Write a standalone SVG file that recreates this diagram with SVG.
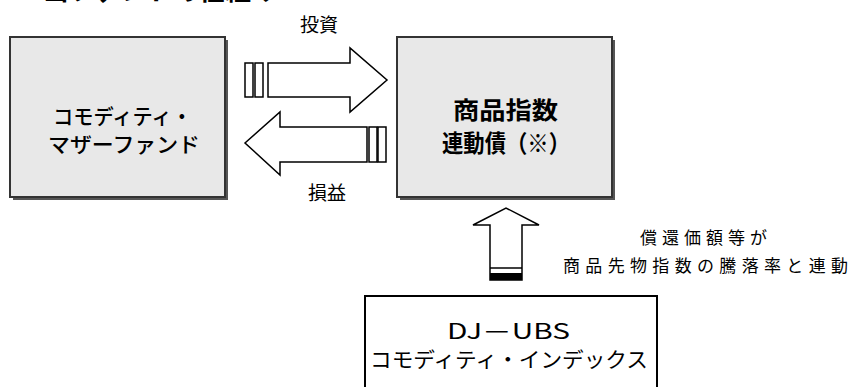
<svg xmlns="http://www.w3.org/2000/svg" width="850" height="387" viewBox="0 0 850 387">
<style>
text{font-family:"Noto Sans CJK JP","Liberation Sans",sans-serif;fill:#000;}
.box{fill:#e8e8e8;stroke:#333;stroke-width:2;}
.shadow{fill:#555;}
.arrow{fill:#fff;stroke:#000;stroke-width:1.5;stroke-linejoin:miter;}
.bar{fill:#fff;stroke:#000;stroke-width:1.5;}
.lbl{font-size:19px;}
.node{font-size:21px;}
</style>
<rect width="850" height="387" fill="#fff"/>
<text x="43" y="0" font-size="26" font-weight="bold">当ファンドの仕組み</text>
<g id="mother-fund">
<rect class="shadow" x="13" y="40" width="215" height="160"/>
<rect class="box" x="10" y="37" width="215" height="160"/>
<text class="node" x="53" y="115" dominant-baseline="central" font-weight="500" textLength="139" lengthAdjust="spacingAndGlyphs">コモディティ・</text>
<text class="node" x="48" y="143" dominant-baseline="central" font-weight="500" textLength="152" lengthAdjust="spacingAndGlyphs">マザーファンド</text>
</g>
<g id="index-bond">
<rect class="shadow" x="400" y="40" width="215" height="160"/>
<rect class="box" x="397" y="37" width="215" height="160"/>
<text x="453" y="108" font-size="24" dominant-baseline="central" font-weight="bold" textLength="105" lengthAdjust="spacingAndGlyphs">商品指数</text>
<text x="442" y="141" font-size="24" dominant-baseline="central" font-weight="bold" textLength="128" lengthAdjust="spacingAndGlyphs">連動債（※）</text>
</g>
<g id="djubs">
<rect x="365" y="296" width="292" height="110" fill="#fff" stroke="#000" stroke-width="2"/>
<text class="node" x="447" y="330" dominant-baseline="central" textLength="123" lengthAdjust="spacingAndGlyphs">DJ－UBS</text>
<text class="node" x="370" y="358" dominant-baseline="central" textLength="278" lengthAdjust="spacingAndGlyphs">コモディティ・インデックス</text>
</g>
<g id="connectors">
<rect class="bar" x="245" y="63" width="8" height="34"/>
<rect class="bar" x="255" y="63" width="8" height="34"/>
<path class="arrow" d="M268,63 H350 V48 L387,80 L350,112 V97 H268 Z"/>
<rect class="bar" x="369" y="127" width="8" height="35"/>
<rect class="bar" x="378" y="127" width="8" height="35"/>
<path class="arrow" d="M367,127 H280 V112 L245,143 L280,175 V162 H367 Z"/>
<path class="arrow" d="M490,280 V225 H473 L506,208 L539,225 H522 V280 Z"/>
<line x1="490" y1="268" x2="522" y2="268" stroke="#000" stroke-width="1.5"/>
<rect x="490" y="273" width="32" height="7" fill="#000"/>
<text class="lbl" x="319" y="23" text-anchor="middle" dominant-baseline="central">投資</text>
<text class="lbl" x="327" y="191" text-anchor="middle" dominant-baseline="central">損益</text>
<text x="640" y="236" font-size="17" dominant-baseline="central" textLength="127" lengthAdjust="spacing">償還価額等が</text>
<text x="563" y="264" font-size="17" dominant-baseline="central" textLength="285" lengthAdjust="spacing">商品先物指数の騰落率と連動</text>
</g>
</svg>
